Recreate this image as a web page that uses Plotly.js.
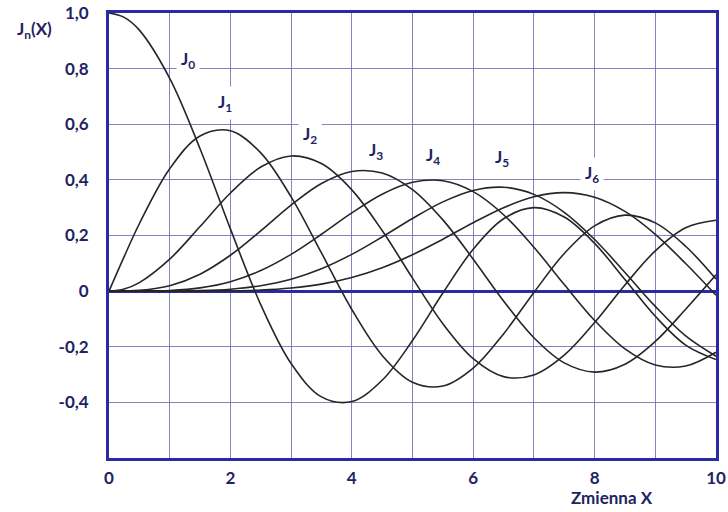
<!DOCTYPE html>
<html>
<head>
<meta charset="utf-8">
<script src="https://cdn.plot.ly/plotly-3.0.1.min.js"></script>
<style>
  html, body { margin: 0; padding: 0; background: #ffffff; }
  #chart { width: 728px; height: 512px; }
</style>
</head>
<body>
<div id="chart"></div>
<script>
// Bessel functions of the first kind J0..J6, tabulated on 0..10
const xs = [0, 0.25, 0.5, 1, 1.5, 2, 2.5, 3, 3.5, 4, 4.5, 5, 5.5, 6, 6.5, 7, 7.5, 8, 8.5, 9, 9.5, 10];

const j0 = [1.0000, 0.9844, 0.9385, 0.7652, 0.5118, 0.2239, -0.0484, -0.2601, -0.3801, -0.3971, -0.3205, -0.1776, -0.0068, 0.1506, 0.2601, 0.3001, 0.2663, 0.1717, 0.0419, -0.0903, -0.1939, -0.2459];
const j1 = [0.0000, 0.1240, 0.2423, 0.4401, 0.5579, 0.5767, 0.4971, 0.3391, 0.1374, -0.0660, -0.2311, -0.3276, -0.3414, -0.2767, -0.1538, -0.0047, 0.1352, 0.2346, 0.2731, 0.2453, 0.1613, 0.0435];
const j2 = [0.0000, 0.0078, 0.0306, 0.1149, 0.2321, 0.3528, 0.4461, 0.4861, 0.4586, 0.3641, 0.2178, 0.0466, -0.1173, -0.2429, -0.3074, -0.3014, -0.2303, -0.1130, 0.0223, 0.1448, 0.2279, 0.2546];
const j3 = [0.0000, 0.0003, 0.0026, 0.0196, 0.0610, 0.1289, 0.2166, 0.3091, 0.3868, 0.4302, 0.4247, 0.3648, 0.2561, 0.1148, -0.0354, -0.1676, -0.2580, -0.2911, -0.2626, -0.1809, -0.0653, 0.0584];
const j4 = [0.0000, 0.0000, 0.0002, 0.0025, 0.0118, 0.0340, 0.0738, 0.1320, 0.2044, 0.2811, 0.3484, 0.3912, 0.3967, 0.3576, 0.2747, 0.1578, 0.0239, -0.1054, -0.2077, -0.2655, -0.2691, -0.2196];
const j5 = [0.0000, 0.0000, 0.0000, 0.0002, 0.0018, 0.0070, 0.0195, 0.0430, 0.0804, 0.1321, 0.1947, 0.2611, 0.3209, 0.3621, 0.3735, 0.3479, 0.2835, 0.1858, 0.0671, -0.0550, -0.1613, -0.2341];
const j6 = [0.0000, 0.0000, 0.0000, 0.0000, 0.0002, 0.0012, 0.0040, 0.0114, 0.0253, 0.0491, 0.0843, 0.1310, 0.1868, 0.2458, 0.2999, 0.3392, 0.3541, 0.3376, 0.2866, 0.2043, 0.0993, -0.0145];

const seriesNames = ['J0', 'J1', 'J2', 'J3', 'J4', 'J5', 'J6'];
const seriesValues = [j0, j1, j2, j3, j4, j5, j6];

// curve labels: subscript index and anchor point in data units
const labelIndex = ['0', '1', '2', '3', '4', '5', '6'];
const labelX = [1.30, 1.91, 3.31, 4.40, 5.34, 6.47, 7.96];
const labelY = [0.83, 0.675, 0.56, 0.505, 0.485, 0.478, 0.42];

const xTickVals = [0, 1, 2, 3, 4, 5, 6, 7, 8, 9, 10];
const xTickText = ['0', '', '2', '', '4', '', '6', '', '8', '', '10'];
const yTickVals = [-0.4, -0.2, 0, 0.2, 0.4, 0.6, 0.8, 1.0];
const yTickText = ['-0,4', '-0,2', '0', '0,2', '0,4', '0,6', '0,8', '1,0'];

const inkBlue = '#2b2aa6';
const gridBlue = 'rgba(110,110,185,0.85)';
const textNavy = '#1d2461';
const fontFamily = 'Lato, "Open Sans", sans-serif';
const fontBold = { family: fontFamily, size: 17, color: textNavy, weight: 'bold' };

const traces = seriesValues.map((ys, i) => ({
  type: 'scatter',
  mode: 'lines',
  name: seriesNames[i],
  x: xs,
  y: ys,
  line: { color: '#262626', width: 1.6, shape: 'spline', smoothing: 1 },
  hoverinfo: 'skip'
}));

const annotations = labelIndex.map((s, i) => ({
  x: labelX[i], y: labelY[i], xref: 'x', yref: 'y',
  xanchor: 'center', yanchor: 'middle',
  text: 'J<sub>' + s + '</sub>',
  showarrow: false,
  bgcolor: '#ffffff',
  borderpad: 4,
  font: { family: fontFamily, size: 17, color: textNavy, weight: 'bold' }
}));

annotations.push({
  x: -0.122, y: 0.962, xref: 'paper', yref: 'paper',
  xanchor: 'center', yanchor: 'middle',
  text: 'J<sub>n</sub>(X)', showarrow: false,
  font: { family: fontFamily, size: 17, color: textNavy, weight: 'bold' }
});
annotations.push({
  x: 0.829, y: -0.088, xref: 'paper', yref: 'paper',
  xanchor: 'center', yanchor: 'middle',
  text: 'Zmienna X', showarrow: false,
  font: { family: fontFamily, size: 17, color: textNavy, weight: 'bold' }
});

const layout = {
  width: 728, height: 512,
  margin: { l: 109, r: 12, t: 13, b: 54 },
  paper_bgcolor: '#ffffff',
  plot_bgcolor: '#ffffff',
  showlegend: false,
  xaxis: {
    range: [0, 10],
    tickvals: xTickVals, ticktext: xTickText,
    showgrid: true, gridcolor: gridBlue, gridwidth: 1,
    zeroline: false,
    showline: true, linecolor: inkBlue, linewidth: 3, mirror: true,
    ticks: '', tickfont: fontBold, ticklabelstandoff: 3
  },
  yaxis: {
    range: [-0.6, 1.0],
    tickvals: yTickVals, ticktext: yTickText,
    showgrid: true, gridcolor: gridBlue, gridwidth: 1,
    zeroline: true, zerolinecolor: inkBlue, zerolinewidth: 3,
    showline: true, linecolor: inkBlue, linewidth: 3, mirror: true,
    ticks: '', tickfont: fontBold, ticklabelstandoff: 14
  },
  annotations: annotations
};

Plotly.newPlot('chart', traces, layout, { staticPlot: true, displayModeBar: false });
</script>
</body>
</html>
